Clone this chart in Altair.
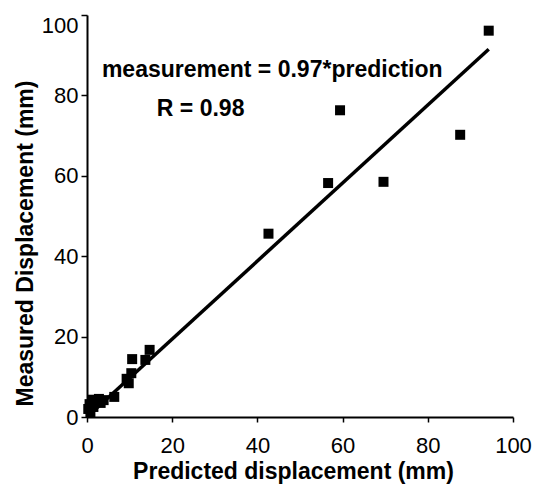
import altair as alt
import pandas as pd

# Measured vs predicted displacement (mm)
predicted = [94.3, 59.4, 87.6, 56.6, 69.6, 42.6, 10.6, 14.7, 13.7, 10.4, 9.8, 9.3,
             6.4, 3.9, 2.8, 2.0, 1.2, 0.6, 0.3, 1.5, 3.2, 0.8]
measured = [96.1, 76.3, 70.2, 58.2, 58.5, 45.6, 14.4, 16.7, 14.2, 10.9, 8.4, 9.5,
            5.0, 4.2, 4.5, 3.8, 4.3, 3.2, 2.0, 2.5, 3.5, 1.2]

fit_x = [0, 94.3]
fit_y = [0, 91.5]

ann_text = ["measurement = 0.97*prediction", "R = 0.98"]
ann_x = [3.5, 16.4]
ann_y = [84.5, 74.9]

FONT = "Liberation Sans"

pts = pd.DataFrame({"pred": predicted, "meas": measured})
fit = pd.DataFrame({"pred": fit_x, "meas": fit_y})
ann = pd.DataFrame({"t": ann_text, "x": ann_x, "y": ann_y})

xscale = alt.Scale(domain=[0, 100], nice=False)
yscale = alt.Scale(domain=[0, 100], nice=False)

xaxis = alt.Axis(
    values=[0, 20, 40, 60, 80, 100], grid=False, title="Predicted displacement (mm)",
    domainColor="black", domainWidth=2, tickColor="black", tickWidth=1.5, tickSize=5,
    labelFont=FONT, labelFontSize=22, labelColor="black", labelPadding=13,
    titleFont=FONT, titleFontSize=23, titleFontWeight="bold", titleColor="black",
    titleAnchor="start", titleX=206, titleY=61, titleAlign="center",
    titleBaseline="alphabetic", labelFlush=False,
)
yaxis = alt.Axis(
    values=[0, 20, 40, 60, 80, 100], grid=False, title="Measured Displacement (mm)",
    domainColor="black", domainWidth=2, tickColor="black", tickWidth=1.5, tickSize=6,
    labelFont=FONT, labelFontSize=22, labelColor="black", labelPadding=3,
    labelBaseline=alt.ExprRef("datum.value == 100 ? 'top' : 'middle'"),
    titleFont=FONT, titleFontSize=23, titleFontWeight="bold", titleColor="black",
    titleAnchor="start", titleX=-55, titleY=228, titleAngle=-90, titleAlign="center",
    titleBaseline="alphabetic", labelFlush=False,
)

points = alt.Chart(pts).mark_square(size=100, color="black", opacity=1).encode(
    x=alt.X("pred:Q", scale=xscale, axis=xaxis),
    y=alt.Y("meas:Q", scale=yscale, axis=yaxis),
)

line = alt.Chart(fit).mark_line(color="black", strokeWidth=3.5).encode(
    x=alt.X("pred:Q", scale=xscale),
    y=alt.Y("meas:Q", scale=yscale),
)

text = alt.Chart(ann).mark_text(
    font=FONT, fontSize=23, fontWeight="bold", color="black",
    align="left", baseline="alphabetic",
).encode(
    x=alt.X("x:Q", scale=xscale),
    y=alt.Y("y:Q", scale=yscale),
    text="t:N",
)

chart = alt.layer(line, points, text).properties(
    width=426, height=402,
    autosize=alt.AutoSizeParams(type="none"),
    padding={"left": 79, "top": 7, "right": 22, "bottom": 70},
    background="white",
).configure_view(stroke=None)

chart.save("out.html", embed_options={"renderer": "svg", "actions": False})
